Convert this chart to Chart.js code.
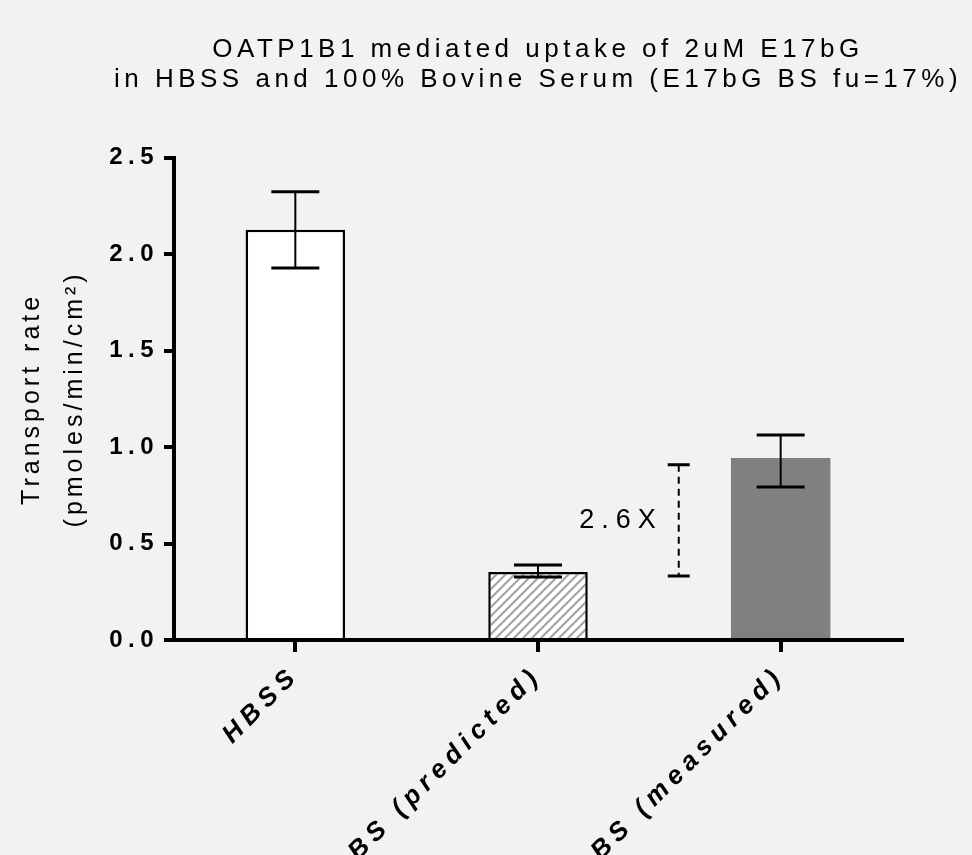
<!DOCTYPE html>
<html>
<head>
<meta charset="utf-8">
<script src="https://cdn.jsdelivr.net/npm/chart.js@4.4.1/dist/chart.umd.min.js"></script>
<style>
  body { margin: 0; background: #f2f2f2; }
  #box { width: 972px; height: 855px; }
</style>
</head>
<body>
<div id="box"><canvas id="chart"></canvas></div>
<script>
const categories = ['HBSS', 'BS (predicted)', 'BS (measured)'];
const rates = [2.127, 0.353, 0.944];
const errHigh = [2.324, 0.389, 1.063];
const errLow = [1.929, 0.326, 0.793];
const yTickStep = 0.5;
const foldAt = 1.58;          // position between the 2nd and 3rd bar (category index)
const foldLow = 0.332;
const foldHigh = 0.908;
const foldLabel = '2.6X';

// wide letter spacing like the original, chosen by font size (italic = x labels)
const spacing = { 26: '4.5px', 25: '4px', 24: '5.5px', 27: '7px' };
const italicSpacing = '6px';

const canvas = document.querySelector('#chart');
const ctx = canvas.getContext('2d');
const measure = ctx.measureText.bind(ctx);
const fill = ctx.fillText.bind(ctx);
const setSpacing = () => {
  const size = (ctx.font.match(/(\d+)px/) || [])[1];
  ctx.letterSpacing = /italic/.test(ctx.font) ? italicSpacing : (spacing[size] || '0px');
};
ctx.measureText = (text) => { setSpacing(); return measure(text); };
// no maxWidth: the long title line must not get squeezed
ctx.fillText = (text, x, y) => { setSpacing(); return fill(text, x, y); };

//hatch for the predicted bar
const hatch = () => {
  const c = document.createElement('canvas');
  c.width = 9; c.height = 9;
  const p = c.getContext('2d');
  p.fillStyle = '#fff';
  p.fillRect(0, 0, 9, 9);
  p.strokeStyle = '#a4a4a4';
  p.lineWidth = 2.2;
  p.beginPath();
  p.moveTo(0, 9); p.lineTo(9, 0);
  p.moveTo(-1, 1); p.lineTo(1, -1);
  p.moveTo(8, 10); p.lineTo(10, 8);
  p.stroke();
  return ctx.createPattern(c, 'repeat');
};

const errorBars = {
  id: 'errorBars',
  afterDatasetsDraw(chart) {
    const y = chart.scales.y;
    const c = chart.ctx;
    c.save();
    c.strokeStyle = '#000';
    chart.getDatasetMeta(0).data.forEach((bar, i) => {
      const top = y.getPixelForValue(errHigh[i]);
      const bottom = y.getPixelForValue(errLow[i]);
      c.lineWidth = 2;
      c.beginPath();
      c.moveTo(bar.x, top); c.lineTo(bar.x, bottom);
      c.stroke();
      c.lineWidth = 3;
      c.beginPath();
      c.moveTo(bar.x - 24, top); c.lineTo(bar.x + 24, top);
      c.moveTo(bar.x - 24, bottom); c.lineTo(bar.x + 24, bottom);
      c.stroke();
    });
    c.restore();
  }
};

const foldMark = {
  id: 'foldMark',
  afterDatasetsDraw(chart) {
    const x = chart.scales.x.getPixelForValue(foldAt);
    const y = chart.scales.y;
    const top = y.getPixelForValue(foldHigh);
    const bottom = y.getPixelForValue(foldLow);
    const c = chart.ctx;
    c.save();
    c.strokeStyle = '#000';
    c.lineWidth = 2;
    c.setLineDash([7, 5]);
    c.beginPath();
    c.moveTo(x, top); c.lineTo(x, bottom);
    c.stroke();
    c.setLineDash([]);
    c.lineWidth = 3;
    c.beginPath();
    c.moveTo(x - 11, top); c.lineTo(x + 11, top);
    c.moveTo(x - 11, bottom); c.lineTo(x + 11, bottom);
    c.stroke();
    c.font = "27px 'Liberation Sans', Arial, sans-serif";
    c.fillStyle = '#000';
    c.textAlign = 'right';
    c.textBaseline = 'middle';
    c.fillText(foldLabel, x - 16, (top + bottom) / 2);
    c.restore();
  }
};

Chart.defaults.font.family = "'Liberation Sans', Arial, sans-serif";
Chart.defaults.color = '#000';

new Chart(canvas, {
  type: 'bar',
  data: {
    labels: categories,
    datasets: [{
      data: rates,
      backgroundColor: ['#ffffff', hatch(), '#808080'],
      borderColor: ['#000', '#000', '#808080'],
      borderWidth: [2.5, 2.5, 0],
      borderSkipped: 'start',
      categoryPercentage: 1,
      barPercentage: 0.41
    }]
  },
  options: {
    responsive: true,
    maintainAspectRatio: false,
    animation: false,
    layout: { padding: { left: 0, right: 70, top: 0, bottom: 0 } },
    plugins: {
      legend: { display: false },
      tooltip: { enabled: false },
      title: {
        display: true,
        fullSize: false,
        text: ['OATP1B1 mediated uptake of 2uM E17bG', 'in HBSS and 100% Bovine Serum (E17bG BS fu=17%)'],
        font: { size: 26, weight: 'normal', lineHeight: 1.15 },
        color: '#000',
        padding: { top: 35, bottom: 63 }
      }
    },
    scales: {
      x: {
        z: 1,
        border: { color: '#000', width: 4 },
        grid: { offset: false, drawOnChartArea: false, color: '#000', lineWidth: 4, tickLength: 12 },
        ticks: {
          minRotation: 45, maxRotation: 45, padding: 8,
          font: { size: 26, weight: 'bold', style: 'italic' }
        },
        afterFit: (scale) => { scale.height = 215; }
      },
      y: {
        z: 1,
        min: 0,
        max: 2.5,
        border: { color: '#000', width: 4 },
        grid: { drawOnChartArea: false, color: '#000', lineWidth: 4, tickLength: 10 },
        ticks: {
          stepSize: yTickStep, padding: 5,
          font: { size: 24, weight: 'bold' },
          callback: (v) => v.toFixed(1)
        },
        title: {
          display: true,
          text: ['Transport rate', '(pmoles/min/cm²)'],
          font: { size: 25, weight: 'normal', lineHeight: 1.72 },
          padding: { top: 11, bottom: 0 }
        },
        afterFit: (scale) => { scale.width = 174; }
      }
    }
  },
  plugins: [errorBars, foldMark]
});
</script>
</body>
</html>
